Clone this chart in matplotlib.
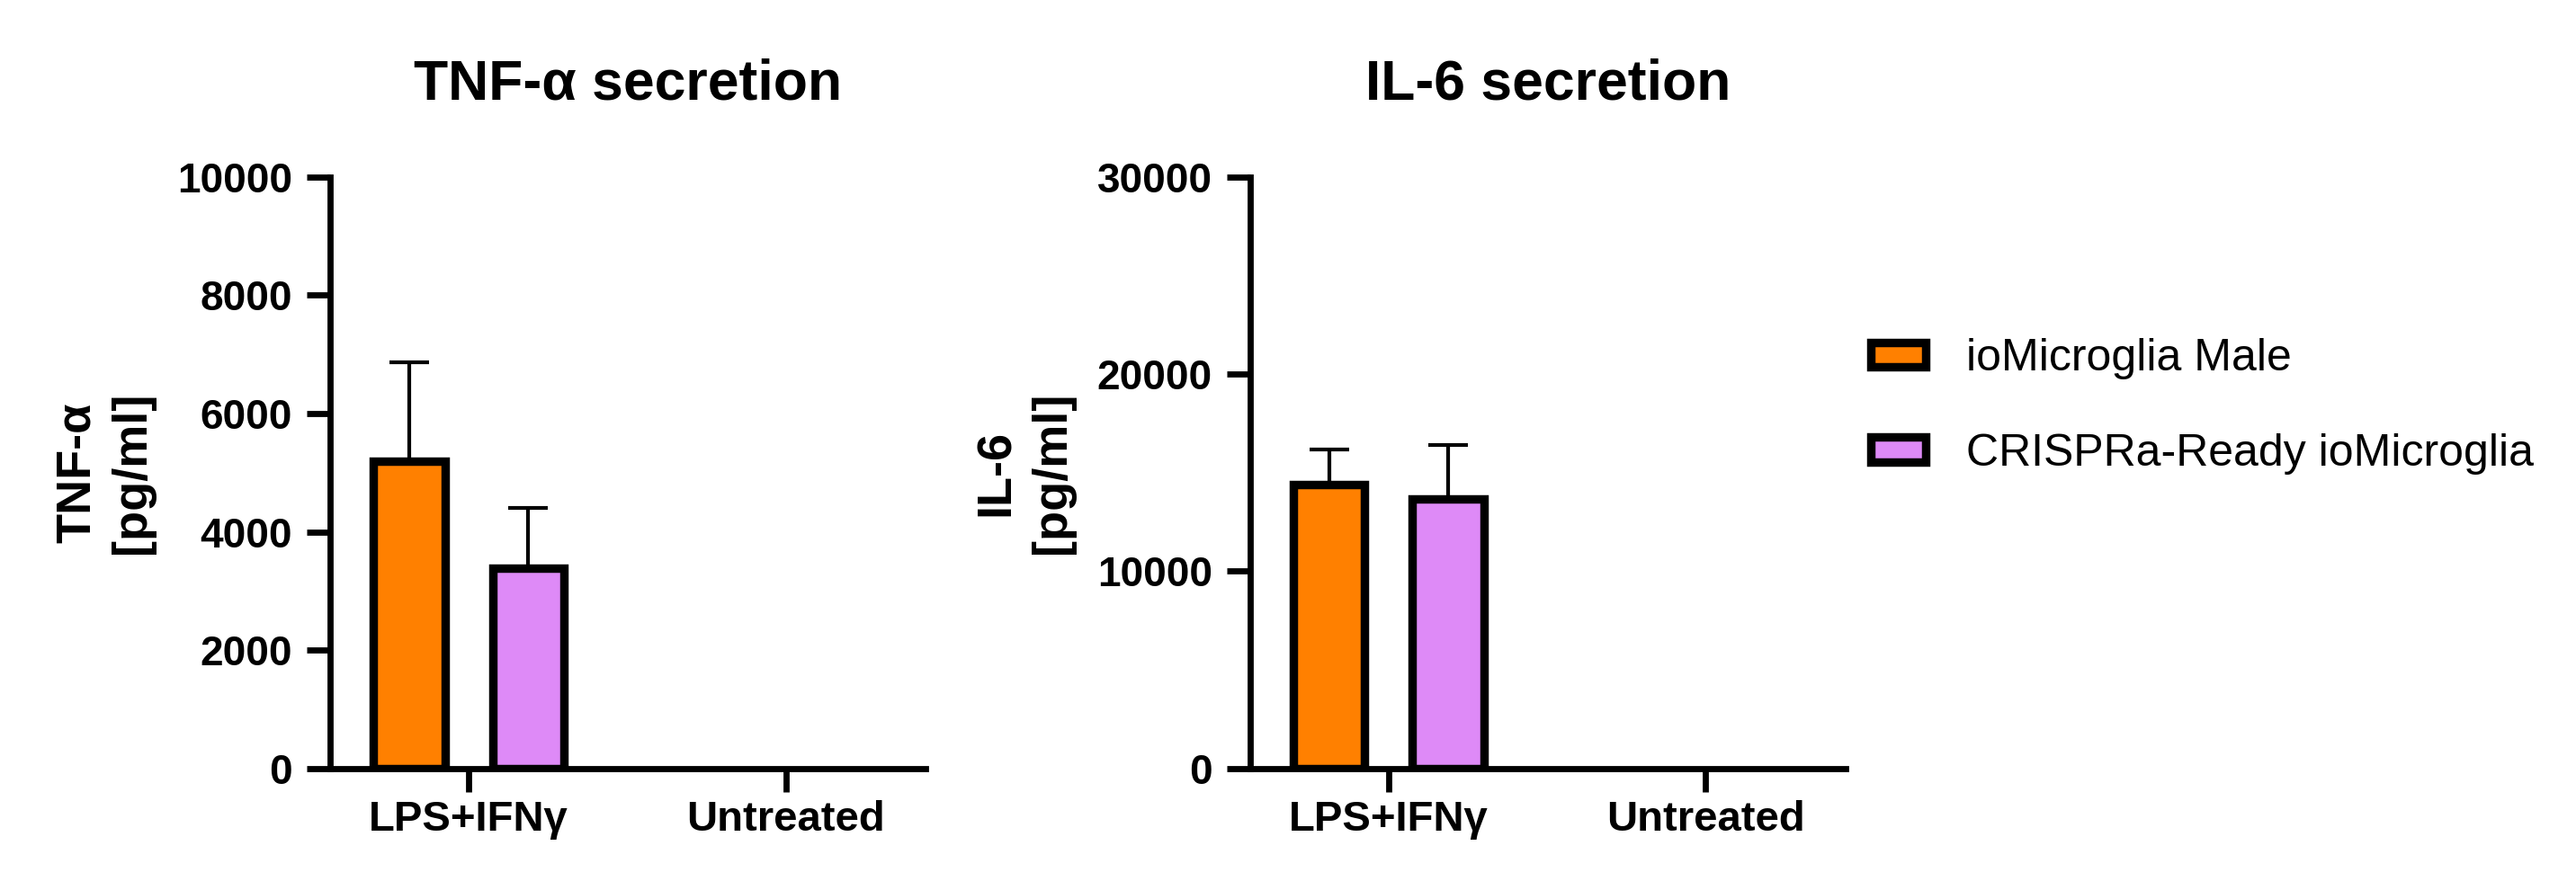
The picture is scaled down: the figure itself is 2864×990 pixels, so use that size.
import numpy as np
import matplotlib
matplotlib.use("Agg")
import matplotlib.pyplot as plt

plt.rcParams['font.family'] = ['Liberation Sans', 'DejaVu Sans']

groups = ['LPS+IFNγ', 'Untreated']
series = ['ioMicroglia Male', 'CRISPRa-Ready ioMicroglia']
colors = ['#FF8000', '#DE8AF7']

tnf_mean = [[5190, 0], [3385, 0]]
tnf_err = [[1680, 0], [1020, 0]]
il6_mean = [[14410, 0], [13670, 0]]
il6_err = [[1750, 0], [2750, 0]]

panels = [
    ('TNF-α secretion', 'TNF-α\n[pg/ml]', tnf_mean, tnf_err, [0, 2000, 4000, 6000, 8000, 10000], 10000),
    ('IL-6 secretion', 'IL-6\n[pg/ml]', il6_mean, il6_err, [0, 10000, 20000, 30000], 30000),
]

fig = plt.figure(figsize=(28.64, 9.9), dpi=100)
lefts = [0.1281, 0.4852]
axes = [fig.add_axes([l, 0.1364, 0.2313, 0.6651]) for l in lefts]

x = np.arange(len(groups))
offsets = [-0.1875, 0.1875]
width = 0.225

for ax, (title, ylab, means, errs, yticks, ymax) in zip(axes, panels):
    for i in range(len(series)):
        # untreated values are zero, nothing to draw there
        keep = [j for j in range(len(groups)) if means[i][j] > 0]
        xs = x[keep] + offsets[i]
        ys = [means[i][j] for j in keep]
        es = [errs[i][j] for j in keep]
        ax.bar(xs, ys, width, color=colors[i], edgecolor='black', linewidth=6.8,
               label=series[i], zorder=2)
        ax.errorbar(xs, ys, yerr=[np.zeros(len(es)), es], fmt='none', ecolor='black',
                    elinewidth=3, capsize=15.8, capthick=3, zorder=1)
    ax.set_xlim(-0.4375, 1.442)
    ax.set_ylim(0, ymax)
    ax.set_yticks(yticks)
    ax.set_xticks(x)
    ax.set_xticklabels(groups)
    for s in ['top', 'right']:
        ax.spines[s].set_visible(False)
    for s in ['left', 'bottom']:
        ax.spines[s].set_linewidth(4.9)
    ax.tick_params(width=4.9, length=19)
    ax.tick_params(axis='y', pad=11, labelsize=33)
    ax.tick_params(axis='x', pad=6, labelsize=34)
    for lab in ax.get_xticklabels() + ax.get_yticklabels():
        lab.set_fontweight('bold')
    ax.set_title(title, fontsize=45, fontweight='bold', pad=62)
    ax.set_ylabel(ylab, fontsize=39, fontweight='bold', labelpad=18, linespacing=1.3)

handles, labels = axes[0].get_legend_handles_labels()
fig.legend(handles, labels, loc='upper left', bbox_to_anchor=(0.7263, 0.620),
           frameon=False, fontsize=36, borderpad=0, borderaxespad=0,
           handlelength=1.22, handleheight=0.48, handletextpad=0.9, labelspacing=1.19)

fig.savefig('out.png', dpi=100)
